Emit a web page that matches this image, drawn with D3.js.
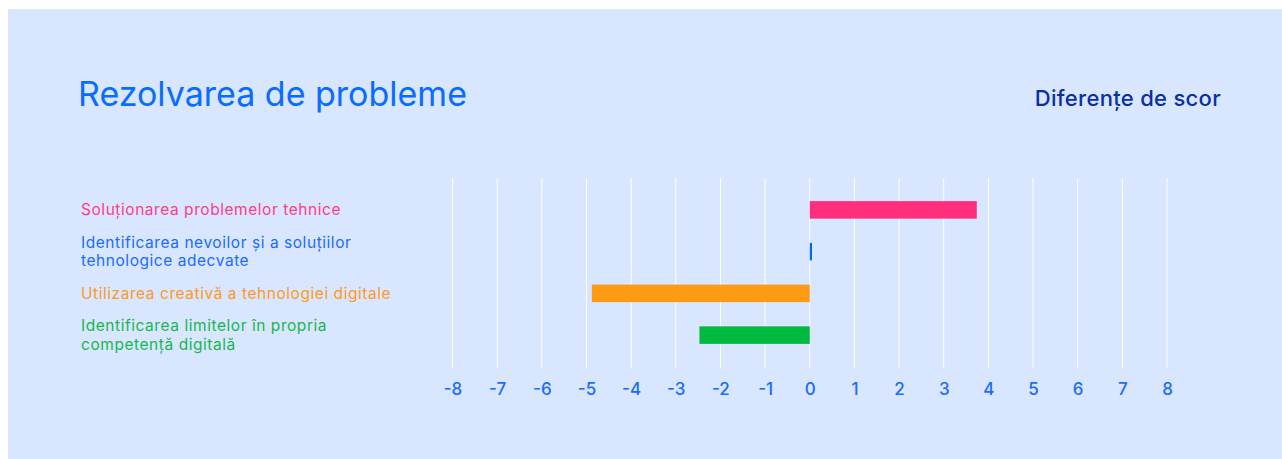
<!DOCTYPE html>
<html>
<head>
<meta charset="utf-8">
<script src="https://cdn.jsdelivr.net/npm/d3@7"></script>
<style>
  html, body { margin: 0; padding: 0; background: #ffffff; }
  svg { display: block; }
  text { font-family: Inter, "Noto Sans", sans-serif; }
</style>
</head>
<body>
<svg id="chart" width="1282" height="459"></svg>
<script>
// Score differences per problem-solving competence
const categories = [
  ["Soluționarea problemelor tehnice"],
  ["Identificarea nevoilor și a soluțiilor", "tehnologice adecvate"],
  ["Utilizarea creativă a tehnologiei digitale"],
  ["Identificarea limitelor în propria", "competență digitală"]
];
const values = [3.74, 0.05, -4.88, -2.47];
const barColors = ["#ff2f7e", "#0066ff", "#ff9a14", "#00b93f"];
const labelColors = ["#ff3d86", "#1a6bff", "#ff9a22", "#17b84c"];
const tickValues = [-8, -7, -6, -5, -4, -3, -2, -1, 0, 1, 2, 3, 4, 5, 6, 7, 8];

const svg = d3.select("#chart");

// panel background
svg.append("rect")
  .attr("x", 8).attr("y", 9)
  .attr("width", 1274).attr("height", 450)
  .attr("fill", "#d8e6ff");

// headings
svg.append("text")
  .attr("x", 78).attr("y", 106)
  .attr("font-size", 34)
  .attr("fill", "#0a6cff")
  .text("Rezolvarea de probleme");

svg.append("text")
  .attr("x", 1221).attr("y", 106)
  .attr("text-anchor", "end")
  .attr("font-size", 22)
  .attr("font-weight", 500)
  .attr("letter-spacing", 0.3)
  .attr("fill", "#0b2fa3")
  .text("Diferențe de scor");

// scales
const x = d3.scaleLinear().domain([-8, 8]).range([452.5, 1167]);
const y = d3.scaleBand()
  .domain(d3.range(categories.length))
  .range([189, 356])
  .paddingInner(0.58)
  .paddingOuter(0.29);

// vertical gridlines
svg.append("g")
  .selectAll("line")
  .data(tickValues)
  .join("line")
  .attr("x1", d => x(d)).attr("x2", d => x(d))
  .attr("y1", 178).attr("y2", 368)
  .attr("stroke", "#ffffff")
  .attr("stroke-width", 1);

// x axis tick labels
const axis = d3.axisBottom(x)
  .tickValues(tickValues)
  .tickSize(0)
  .tickPadding(0)
  .tickFormat(d => d < 0 ? "-" + Math.abs(d) : String(d));

const gAxis = svg.append("g")
  .attr("transform", "translate(0,383)")
  .call(axis);
gAxis.select(".domain").remove();
gAxis.selectAll("text")
  .attr("font-size", 17)
  .attr("font-weight", 500)
  .attr("fill", "#1a6bff")
  .attr("dy", "0.71em")
  .style("font-family", "Inter, 'Noto Sans', sans-serif");

// bars
svg.append("g")
  .selectAll("rect")
  .data(values)
  .join("rect")
  .attr("x", d => x(Math.min(0, d)))
  .attr("y", (d, i) => y(i))
  .attr("width", d => Math.max(2, Math.abs(x(d) - x(0))))
  .attr("height", y.bandwidth())
  .attr("fill", (d, i) => barColors[i]);

// category labels, one text element per wrapped line
const lineH = 18.5;
const labelLines = categories.flatMap((lines, i) =>
  lines.map((text, k) => ({ text, i, k, n: lines.length })));

svg.append("g")
  .selectAll("text")
  .data(labelLines)
  .join("text")
  .attr("x", 81)
  .attr("y", d => y(d.i) + y.bandwidth() / 2 + (d.k - (d.n - 1) / 2) * lineH)
  .attr("font-size", 15.5)
  .attr("letter-spacing", 0.55)
  .attr("fill", d => labelColors[d.i])
  .attr("dominant-baseline", "central")
  .text(d => d.text);
</script>
</body>
</html>
